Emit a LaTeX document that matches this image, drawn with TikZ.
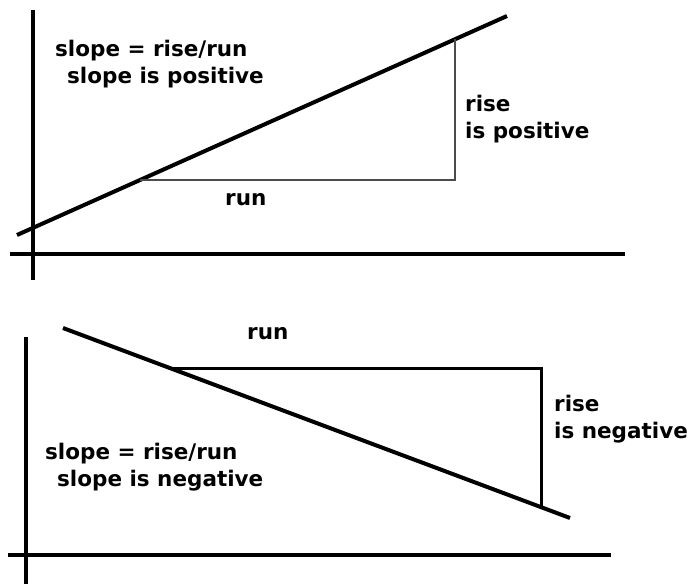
\documentclass[tikz,border=0pt]{standalone}
\usepackage{fontspec}
\setmainfont{DejaVu Sans}

\begin{document}
\begin{tikzpicture}[x=1pt, y=-1pt,
    axis/.style={line width=3.6pt},
    slopeline/.style={line width=4pt},
    legs/.style={line width=2pt, draw=black!70},
    legsdark/.style={line width=3pt},
    lbl/.style={inner sep=0pt, align=left, font=\bfseries\fontsize{21.5}{27}\selectfont}
]
\useasboundingbox (0,0) rectangle (697,584);

% Upper graph (positive slope)
\coordinate (ytop1) at (33,10);
\coordinate (ybot1) at (33,280);
\coordinate (xl1) at (10,254);
\coordinate (xr1) at (625,254);
\draw[axis] (ytop1) -- (ybot1);
\draw[axis] (xl1) -- (xr1);

\coordinate (a1) at (17,235);
\coordinate (b1) at (507,16);
\draw[slopeline] (a1) -- coordinate[pos=0.251] (runstart1) coordinate[pos=0.894] (risetop1) (b1);
\draw[legs] (runstart1) -- (runstart1 -| risetop1) -- (risetop1);

\node[lbl, anchor=north west] (formula1) at (55,40) {slope = rise/run\\\hspace*{12pt}slope is positive};
\node[lbl, anchor=base west] (run1) at (225,205) {run};
\node[lbl, anchor=north west] (rise1) at (465,95) {rise\\is positive};

% Lower graph (negative slope)
\coordinate (ytop2) at (26,337);
\coordinate (ybot2) at (26,584);
\coordinate (xl2) at (8,555);
\coordinate (xr2) at (611,555);
\draw[axis] (ytop2) -- (ybot2);
\draw[axis] (xl2) -- (xr2);

\coordinate (a2) at (63,328);
\coordinate (b2) at (570,518);
\draw[slopeline] (a2) -- coordinate[pos=0.211] (runstart2) coordinate[pos=0.943] (risebot2) (b2);
\draw[legsdark] (runstart2) -- (runstart2 -| risebot2) -- (risebot2);

\node[lbl, anchor=north west] (formula2) at (45,443) {slope = rise/run\\\hspace*{12pt}slope is negative};
\node[lbl, anchor=base west] (run2) at (247,339) {run};
\node[lbl, anchor=north west] (rise2) at (554,395) {rise\\is negative};

\end{tikzpicture}
\end{document}
